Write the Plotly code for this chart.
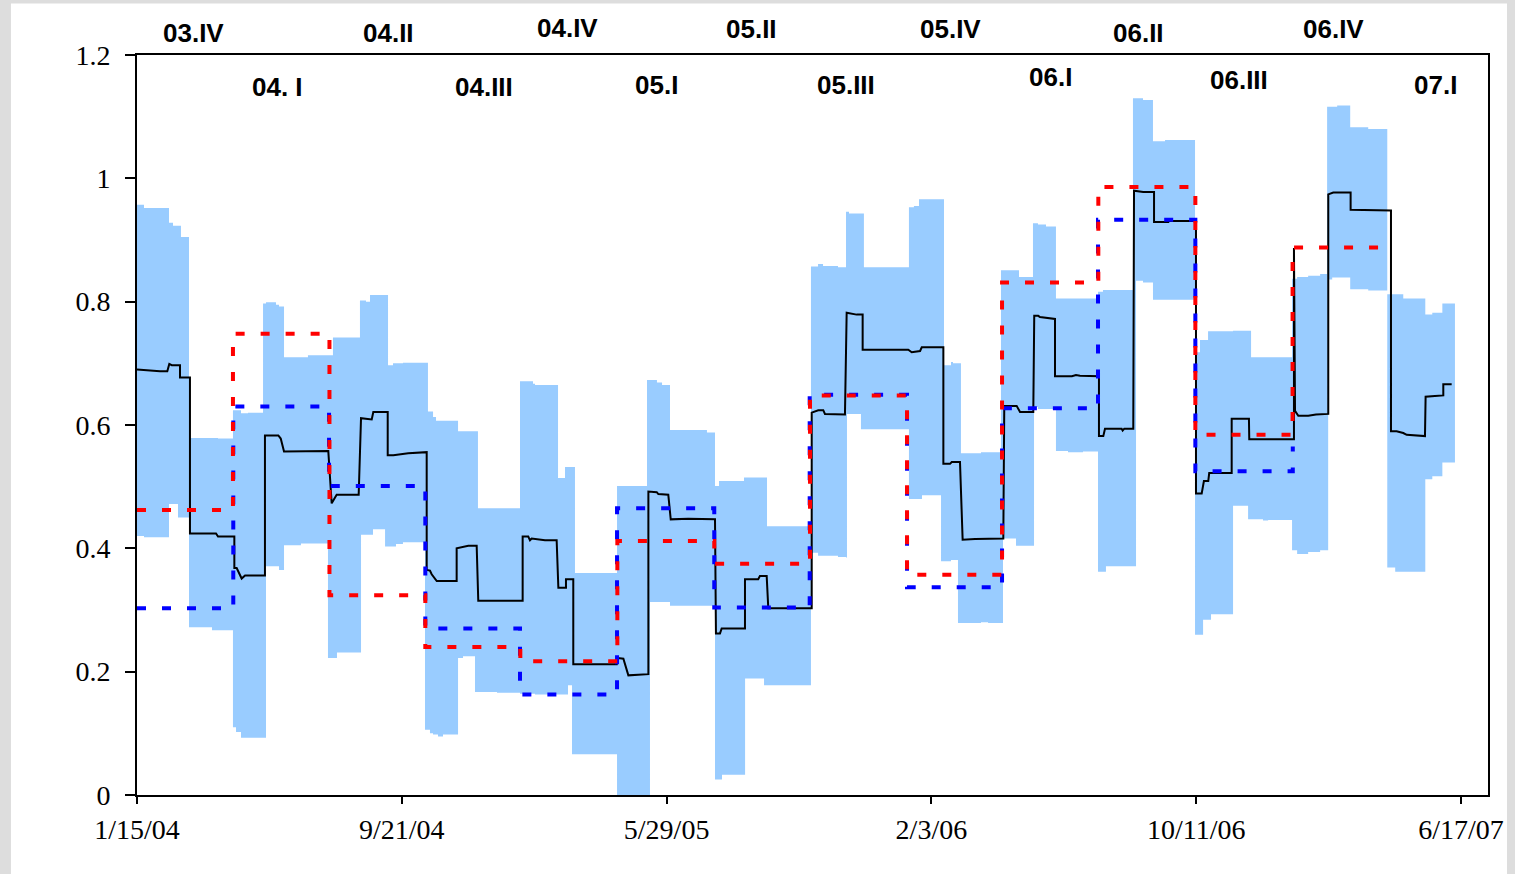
import pandas as pd
import plotly.graph_objects as go

BASE = pd.Timestamp("2004-01-15")

# ---------------- data (x in days since 2004-01-15) ----------------
band_day = [0, 6.6, 30.2, 34.0, 38.7, 41.5, 49.1, 70.8, 76.5, 90.6, 93.5, 98.2, 104.8, 119.0, 121.8,
            131.2, 134.1, 138.8, 154.8, 161.4, 180.3, 185.0, 188.8, 210.5, 211.5, 216.2, 220.0, 222.8,
            234.2, 237.0, 241.7, 244.5, 251.1, 271.9, 274.7, 276.6, 279.5, 282.3, 284.2, 288.9, 303.1,
            307.8, 319.1, 321.9, 339.9, 361.6, 373.9, 375.8, 397.5, 404.1, 406.9, 410.7, 413.5, 453.2,
            481.5, 484.3, 490.9, 495.7, 503.2, 538.1, 545.7, 549.5, 552.3, 573.1, 574.1, 592.0, 594.8,
            636.3, 643.0, 647.7, 661.8, 669.4, 670.3, 672.2, 683.5, 686.3, 728.8, 733.5, 738.3, 741.1,
            759.1, 761.9, 768.5, 770.4, 775.1, 777.9, 796.8, 803.5, 815.7, 817.6, 829.9, 832.7, 845.9,
            846.9, 850.6, 858.2, 867.6, 879.0, 893.1, 907.3, 912.0, 914.8, 940.3, 943.2, 949.8, 959.2,
            970.6, 998.9, 1003.6, 1006.5, 1011.2, 1014.0, 1034.8, 1049.0, 1051.8, 1063.1, 1067.9,
            1090.5, 1095.3, 1105.7, 1117.0, 1123.6, 1124.6, 1128.4, 1133.1, 1145.4, 1162.4, 1180.4,
            1187.9, 1195.5, 1216.3, 1222.9, 1232.4, 1244.3]
band_lo = [0.420, 0.418, 0.472, 0.472, 0.450, 0.450, 0.272, 0.267, 0.267, 0.110, 0.102, 0.093, 0.093,
           0.093, 0.371, 0.371, 0.365, 0.405, 0.408, 0.408, 0.222, 0.222, 0.231, 0.231, 0.422, 0.422,
           0.422, 0.431, 0.403, 0.403, 0.403, 0.407, 0.410, 0.106, 0.106, 0.100, 0.098, 0.098, 0.095,
           0.098, 0.222, 0.225, 0.167, 0.167, 0.166, 0.164, 0.164, 0.163, 0.163, 0.163, 0.178, 0.066,
           0.066, 0.0, 0.0, 0.313, 0.313, 0.313, 0.307, 0.307, 0.025, 0.025, 0.033, 0.033, 0.189,
           0.178, 0.178, 0.393, 0.388, 0.388, 0.386, 0.385, 0.618, 0.618, 0.593, 0.593, 0.480, 0.480,
           0.480, 0.486, 0.379, 0.379, 0.381, 0.381, 0.279, 0.279, 0.280, 0.279, 0.279, 0.416, 0.404,
           0.404, 0.404, 0.629, 0.626, 0.626, 0.558, 0.556, 0.557, 0.362, 0.362, 0.371, 0.371, 0.834,
           0.831, 0.803, 0.803, 0.260, 0.260, 0.284, 0.284, 0.293, 0.469, 0.447, 0.447, 0.445, 0.446,
           0.397, 0.391, 0.394, 0.397, 0.397, 0.836, 0.839, 0.839, 0.820, 0.818, 0.369, 0.362, 0.362,
           0.512, 0.517, 0.539, 0.539]
band_hi = [0.957, 0.952, 0.928, 0.923, 0.923, 0.905, 0.579, 0.579, 0.578, 0.624, 0.624, 0.619, 0.620,
           0.797, 0.799, 0.795, 0.792, 0.710, 0.710, 0.713, 0.713, 0.742, 0.742, 0.802, 0.802, 0.800,
           0.811, 0.811, 0.811, 0.697, 0.700, 0.700, 0.701, 0.701, 0.622, 0.622, 0.613, 0.607, 0.607,
           0.607, 0.590, 0.590, 0.590, 0.465, 0.465, 0.671, 0.667, 0.665, 0.514, 0.532, 0.532, 0.532,
           0.360, 0.501, 0.673, 0.673, 0.669, 0.665, 0.592, 0.588, 0.501, 0.509, 0.509, 0.515, 0.515,
           0.515, 0.436, 0.857, 0.861, 0.858, 0.856, 0.946, 0.946, 0.943, 0.943, 0.856, 0.953, 0.955,
           0.966, 0.966, 0.966, 0.697, 0.702, 0.700, 0.700, 0.554, 0.556, 0.556, 0.851, 0.851, 0.851,
           0.840, 0.927, 0.927, 0.925, 0.922, 0.805, 0.805, 0.805, 0.816, 0.819, 0.819, 1.130, 1.130,
           1.127, 1.060, 1.062, 0.718, 0.738, 0.738, 0.752, 0.752, 0.753, 0.753, 0.710, 0.710, 0.710,
           0.837, 0.840, 0.842, 0.845, 1.116, 1.116, 1.116, 1.118, 1.083, 1.080, 0.812, 0.812, 0.805,
           0.779, 0.782, 0.797, 0.797]

black_day = [0, 10.7, 21.7, 28.6, 30.5, 32.8, 40.6, 40.6, 50.0, 50.0, 74.6, 76.5, 91.9, 91.9, 94.1,
             98.8, 102.0, 120.8, 120.8, 133.4, 135.7, 138.8, 158.6, 180.6, 183.8, 186.0, 188.5, 209.3,
             211.5, 221.6, 223.1, 236.7, 236.7, 242.0, 256.1, 273.5, 273.5, 276.6, 278.2, 283.0, 301.8,
             301.8, 308.1, 312.8, 320.7, 322.2, 364.1, 364.1, 369.4, 371.0, 372.6, 385.2, 396.2, 397.8,
             405.0, 405.0, 411.9, 411.9, 453.0, 454.4, 459.2, 463.9, 473.3, 482.8, 482.8, 490.7, 492.2,
             496.4, 501.6, 503.9, 520.5, 545.7, 546.6, 550.4, 552.0, 574.0, 574.0, 586.5, 588.1, 594.5,
             596.0, 637.0, 637.0, 643.2, 647.9, 649.5, 662.1, 668.4, 670.0, 679.4, 685.1, 685.1, 728.2,
             731.4, 739.3, 740.9, 761.3, 761.3, 767.6, 769.2, 777.0, 779.5, 791.2, 817.9, 818.8, 830.5,
             833.7, 846.2, 847.1, 850.9, 852.5, 866.7, 866.7, 882.7, 886.5, 890.3, 908.2, 908.2, 912.3,
             913.9, 929.6, 930.6, 932.1, 940.6, 941.3, 945.3, 950.0, 960.2, 960.2, 973.7, 974.6, 999.8,
             999.8, 1005.2, 1007.3, 1011.4, 1012.3, 1033.5, 1033.5, 1049.8, 1050.1, 1092.3, 1092.3,
             1093.3, 1096.4, 1105.8, 1113.1, 1124.7, 1124.7, 1129.4, 1145.8, 1145.8, 1162.2, 1164.0,
             1183.9, 1183.9, 1189.2, 1195.5, 1198.7, 1216.0, 1216.6, 1225.4, 1233.3, 1233.3, 1241.2]
black_val = [0.690, 0.688, 0.687, 0.687, 0.699, 0.697, 0.697, 0.677, 0.677, 0.424, 0.424, 0.419, 0.419,
             0.368, 0.368, 0.351, 0.356, 0.356, 0.583, 0.583, 0.578, 0.557, 0.558, 0.558, 0.473, 0.480,
             0.487, 0.487, 0.611, 0.609, 0.621, 0.621, 0.551, 0.551, 0.554, 0.556, 0.365, 0.364, 0.358,
             0.347, 0.347, 0.400, 0.402, 0.404, 0.404, 0.315, 0.315, 0.419, 0.419, 0.413, 0.416, 0.413,
             0.413, 0.336, 0.336, 0.350, 0.350, 0.212, 0.212, 0.222, 0.221, 0.194, 0.195, 0.196, 0.492,
             0.491, 0.488, 0.488, 0.487, 0.447, 0.448, 0.447, 0.262, 0.262, 0.270, 0.270, 0.350, 0.350,
             0.355, 0.355, 0.303, 0.303, 0.620, 0.624, 0.624, 0.618, 0.617, 0.617, 0.782, 0.779, 0.779,
             0.722, 0.722, 0.718, 0.720, 0.726, 0.726, 0.537, 0.537, 0.540, 0.540, 0.414, 0.415, 0.416,
             0.631, 0.631, 0.621, 0.621, 0.777, 0.777, 0.775, 0.772, 0.679, 0.679, 0.681, 0.680, 0.679,
             0.582, 0.582, 0.594, 0.594, 0.591, 0.594, 0.594, 0.980, 0.979, 0.978, 0.978, 0.929, 0.929,
             0.931, 0.931, 0.489, 0.489, 0.509, 0.509, 0.522, 0.522, 0.610, 0.610, 0.577, 0.577, 0.887,
             0.623, 0.615, 0.615, 0.617, 0.618, 0.974, 0.977, 0.977, 0.949, 0.949, 0.948, 0.948, 0.590,
             0.590, 0.587, 0.584, 0.582, 0.646, 0.647, 0.648, 0.666, 0.666]

red_day = [0, 90.6, 181.7, 272.2, 361.9, 453.5, 545.0, 635.4, 727.0, 816.7, 907.6, 999.2, 1091.0, 1183.0]
red_val = [0.462, 0.748, 0.324, 0.240, 0.217, 0.412, 0.375, 0.648, 0.357, 0.831, 0.986, 0.584, 0.888, 0.888]

blue_day = [0, 90.9, 181.3, 272.2, 361.6, 453.2, 545.0, 635.1, 727.0, 816.7, 907.3, 999.2, 1091.2]
blue_val = [0.303, 0.630, 0.501, 0.270, 0.163, 0.465, 0.304, 0.649, 0.337, 0.627, 0.933, 0.525, 0.565]

quarter_labels = ["03.IV", "04. I", "04.II", "04.III", "04.IV", "05.I", "05.II", "05.III",
                  "05.IV", "06.I", "06.II", "06.III", "06.IV", "07.I"]
quarter_label_day = [52.9, 133.1, 237.9, 327.6, 406.9, 490.0, 580.6, 669.4, 768.5, 862.9, 945.1,
                     1040.4, 1130.1, 1226.4]
quarter_label_level = [1.030, 0.957, 1.030, 0.957, 1.036, 0.959, 1.035, 0.959, 1.035, 0.970, 1.030,
                       0.966, 1.035, 0.960]

x_tick_day = [0, 250, 500, 750, 1000, 1250]
x_tick_text = ["1/15/04", "9/21/04", "5/29/05", "2/3/06", "10/11/06", "6/17/07"]
y_tick_vals = [0, 0.2, 0.4, 0.6, 0.8, 1.0, 1.2]
y_tick_text = ["0", "0.2", "0.4", "0.6", "0.8", "1", "1.2"]
x_range_day = [0, 1275.5]


def to_dates(days):
    return [BASE + pd.Timedelta(days=float(d)) for d in days]


fig = go.Figure()

# uncertainty band
fig.add_trace(go.Scatter(x=to_dates(band_day), y=band_hi, mode="lines", line_shape="hv",
                         line=dict(width=0, color="#99CCFF"), showlegend=False, hoverinfo="skip"))
fig.add_trace(go.Scatter(x=to_dates(band_day), y=band_lo, mode="lines", line_shape="hv",
                         line=dict(width=0, color="#99CCFF"), fill="tonexty", fillcolor="#99CCFF",
                         showlegend=False, hoverinfo="skip"))

# black estimate
fig.add_trace(go.Scatter(x=to_dates(black_day), y=black_val, mode="lines",
                         line=dict(color="black", width=2), showlegend=False))

# blue dashed
fig.add_trace(go.Scatter(x=to_dates(blue_day), y=blue_val, mode="lines", line_shape="hv",
                         line=dict(color="#0000FF", width=4, dash="9px,16px"), showlegend=False))
# red dashed
fig.add_trace(go.Scatter(x=to_dates(red_day), y=red_val, mode="lines", line_shape="hv",
                         line=dict(color="#FF0000", width=4, dash="9px,16px"), showlegend=False))

for txt, d, lv in zip(quarter_labels, quarter_label_day, quarter_label_level):
    fig.add_annotation(x=to_dates([d])[0], y=lv, xref="x", yref="paper", text=f"<b>{txt}</b>",
                       showarrow=False, xanchor="center", yanchor="middle",
                       font=dict(family="Liberation Sans, Arial, sans-serif", size=26, color="black"))

serif = "Liberation Serif, Times New Roman, serif"
fig.update_xaxes(type="date", range=to_dates(x_range_day), tickvals=to_dates(x_tick_day),
                 ticktext=x_tick_text, ticks="outside", ticklen=7, tickwidth=2, tickcolor="black",
                 showline=True, linewidth=2, linecolor="black", mirror=True, showgrid=False,
                 zeroline=False, ticklabelstandoff=1,
                 tickfont=dict(family=serif, size=28, color="black"))
fig.update_yaxes(range=[0, 1.2], tickvals=y_tick_vals, ticktext=y_tick_text, ticks="outside",
                 ticklen=10, tickwidth=2, tickcolor="black", showline=True, linewidth=2,
                 linecolor="black", mirror=True, showgrid=False, zeroline=False,
                 ticklabelstandoff=9, tickfont=dict(family=serif, size=28, color="black"))

fig.add_shape(type="rect", xref="paper", yref="paper", x0=-0.0933, x1=1.0141, y0=-0.3, y1=1.0697,
              fillcolor="white", line=dict(width=0), layer="below")
fig.add_shape(type="rect", xref="paper", yref="paper", x0=1.0141, x1=1.2, y0=-0.3, y1=1.3,
              fillcolor="#DDDDDD", line=dict(width=0), layer="above")

fig.update_layout(width=1515, height=874, autosize=False,
                  margin=dict(l=137, r=27, t=55, b=79),
                  paper_bgcolor="#DDDDDD", plot_bgcolor="white", showlegend=False)

fig.write_html("out.html")
